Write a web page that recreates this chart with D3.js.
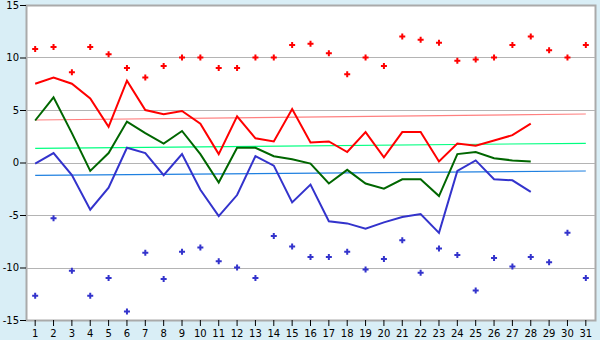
<!DOCTYPE html>
<html>
<head>
<meta charset="utf-8">
<script src="https://cdn.jsdelivr.net/npm/d3@7"></script>
<style>
  body { margin: 0; background: #d9eef6; }
  svg { display: block; }
  .tick text { font-family: "DejaVu Sans", sans-serif; font-size: 10px; fill: #000; }
</style>
</head>
<body>
<svg id="chart" width="600" height="340"></svg>
<script>
// Days of month
const days = d3.range(1, 32);

// Daily extremes (points)
const maxPoints = [10.8, 11.0, 8.6, 11.0, 10.3, 9.0, 8.1, 9.2, 10.0, 10.0,
  9.0, 9.0, 10.0, 10.0, 11.2, 11.3, 10.4, 8.4, 10.0, 9.2,
  12.0, 11.7, 11.4, 9.7, 9.8, 10.0, 11.2, 12.0, 10.7, 10.0, 11.2];
const minPoints = [-12.7, -5.3, -10.3, -12.7, -11.0, -14.2, -8.6, -11.1, -8.5, -8.1,
  -9.4, -10.0, -11.0, -7.0, -8.0, -9.0, -9.0, -8.5, -10.2, -9.2,
  -7.4, -10.5, -8.2, -8.8, -12.2, -9.1, -9.9, -9.0, -9.5, -6.7, -11.0];

// Daily series (lines), days 1..28
const maxLine = [7.5, 8.1, 7.5, 6.1, 3.4, 7.8, 5.0, 4.6, 4.9, 3.7,
  0.8, 4.4, 2.3, 2.0, 5.1, 1.9, 2.0, 1.0, 2.9, 0.5,
  2.9, 2.9, 0.1, 1.8, 1.6, 2.1, 2.6, 3.7];
const avgLine = [4.0, 6.2, 2.8, -0.8, 0.9, 3.9, 2.8, 1.8, 3.0, 0.8,
  -1.9, 1.4, 1.4, 0.6, 0.3, -0.1, -2.0, -0.7, -2.0, -2.5,
  -1.6, -1.6, -3.2, 0.8, 1.0, 0.4, 0.2, 0.1];
const minLine = [-0.1, 0.9, -1.2, -4.5, -2.4, 1.4, 0.9, -1.2, 0.8, -2.6,
  -5.1, -3.1, 0.6, -0.3, -3.8, -2.1, -5.6, -5.8, -6.3, -5.7,
  -5.2, -4.9, -6.7, -0.8, 0.2, -1.6, -1.7, -2.8];

// Long-term normals: value at day 1 and day 31
const normMax = [4.05, 4.62];
const normAvg = [1.35, 1.83];
const normMin = [-1.22, -0.81];

const yTicks = [-15, -10, -5, 0, 5, 10, 15];
const gridValues = [-10, -5, 0, 5, 10];

const svg = d3.select('#chart');
const plotLeft = 26, plotRight = 595, plotTop = 5, plotBottom = 320;

const x = d3.scaleBand().domain(days).range([plotLeft, plotRight]);
const cx = d => x(d) + x.bandwidth() / 2;
const y = d3.scaleLinear().domain([-15, 15]).range([plotBottom, plotTop]);
const snap = v => Math.round(v) + 0.5;

// Plot area
svg.append('rect')
  .attr('x', plotLeft + 0.5).attr('y', plotTop + 0.5)
  .attr('width', plotRight - plotLeft).attr('height', plotBottom - plotTop)
  .attr('fill', '#fff')
  .attr('stroke', '#aaa')
  .attr('stroke-width', 2);

// Gridlines
svg.append('g')
  .selectAll('line')
  .data(gridValues)
  .join('line')
  .attr('x1', plotLeft).attr('x2', plotRight)
  .attr('y1', d => snap(y(d))).attr('y2', d => snap(y(d)))
  .attr('stroke', '#b4b4b4')
  .attr('stroke-width', 1);

// Axes
const yAxis = svg.append('g')
  .attr('transform', `translate(${plotLeft},0)`)
  .call(d3.axisLeft(y).tickValues(yTicks).tickSize(6).tickPadding(1)
    .tickFormat(d => String(d)));
const xAxis = svg.append('g')
  .attr('transform', `translate(0,${plotBottom})`)
  .call(d3.axisBottom(x).tickSize(6).tickPadding(4));
[xAxis, yAxis].forEach(a => {
  a.select('.domain').remove();
  a.selectAll('.tick line').attr('stroke', '#000');
});

// Normal lines
const normals = [
  { v: normMax, color: '#ff8080' },
  { v: normAvg, color: '#00ff80' },
  { v: normMin, color: '#1f80e0' }
];
svg.append('g')
  .selectAll('line')
  .data(normals)
  .join('line')
  .attr('x1', cx(1)).attr('x2', cx(31))
  .attr('y1', d => y(d.v[0])).attr('y2', d => y(d.v[1]))
  .attr('stroke', d => d.color)
  .attr('stroke-width', 1.2);

// Daily lines
const line = d3.line().x((d, i) => cx(days[i])).y(d => y(d));
const series = [
  { v: maxLine, color: '#ff0000' },
  { v: avgLine, color: '#006600' },
  { v: minLine, color: '#3333cc' }
];
svg.append('g')
  .selectAll('path')
  .data(series)
  .join('path')
  .attr('d', d => line(d.v))
  .attr('fill', 'none')
  .attr('stroke', d => d.color)
  .attr('stroke-width', 2);

// Extreme points
const cross = d3.symbol().type(d3.symbolCross).size(20);
[{ v: maxPoints, color: '#ff0000' }, { v: minPoints, color: '#3333cc' }].forEach(s => {
  svg.append('g')
    .selectAll('path')
    .data(s.v)
    .join('path')
    .attr('transform', (d, i) => `translate(${cx(days[i])},${y(d)})`)
    .attr('d', cross)
    .attr('fill', s.color);
});
</script>
</body>
</html>
